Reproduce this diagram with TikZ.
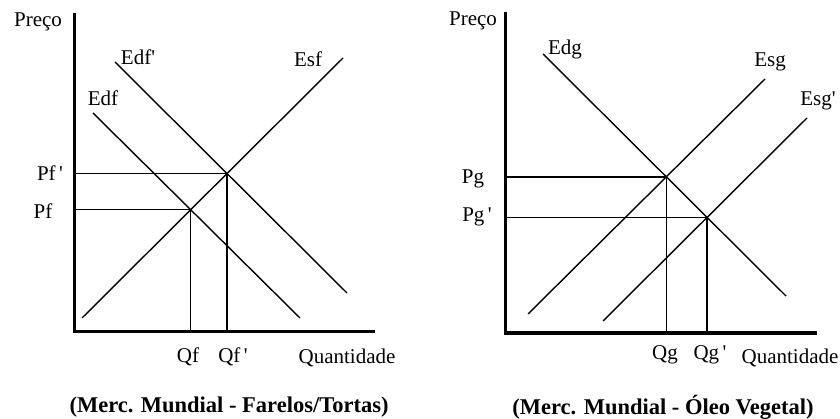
\documentclass[tikz,border=0pt]{standalone}
\usepackage{fontspec}
\setmainfont{Liberation Serif}
\usetikzlibrary{positioning,intersections}

\begin{document}
\begin{tikzpicture}[x=1pt, y=-1pt, font=\fontsize{21}{23}\selectfont]
  \tikzstyle{axis}=[line width=3pt]
  \tikzstyle{curve}=[line width=1.4pt]
  \tikzstyle{guide}=[line width=1.4pt]
  \tikzstyle{lbl}=[inner sep=0pt]
  \tikzstyle{title}=[inner sep=0pt, font=\fontsize{22.5}{25}\selectfont\bfseries]
  \useasboundingbox[fill=white] (0,0) rectangle (840,419);

  % left panel: farelos / tortas
  \coordinate (ytopL) at (74,13);
  \coordinate (oL) at (74,332);
  \coordinate (xendL) at (375,332);
  \draw[axis] (ytopL) -- (oL) -- (xendL);
  \coordinate (edfA) at (93,113);   \coordinate (edfB) at (300,318);
  \coordinate (edfpA) at (115,62);  \coordinate (edfpB) at (347,293);
  \coordinate (esfA) at (82,318);   \coordinate (esfB) at (343,58);
  \draw[curve, name path=edf] (edfA) -- (edfB);
  \draw[curve, name path=edfp] (edfpA) -- (edfpB);
  \draw[curve, name path=esf] (esfA) -- (esfB);
  \path[name intersections={of=edf and esf, by=eqf}];
  \path[name intersections={of=edfp and esf, by=eqfp}];
  \draw[guide] (oL |- eqf) -- (eqf) -- (eqf |- oL);
  \draw[guide] (oL |- eqfp) -- (eqfp) -- (eqfp |- oL);
  \node[lbl] (precoL) at (38,22) {Preço};
  \node[lbl] (edfpLbl) at (138,57) {Edf\textquotesingle};
  \node[lbl] (edfLbl) at (103,98) {Edf};
  \node[lbl] (esfLbl) at (308,59) {Esf};
  \node[lbl] (pfp) at (50,173) {Pf\,\textquotesingle};
  \node[lbl] (pf) at (43,211) {Pf};
  \node[lbl] (qf) at (188,357) {Qf};
  \node[lbl] (qfp) at (233,357) {Qf\,\textquotesingle};
  \node[lbl] (quantL) at (347,358) {Quantidade};
  \node[title] (titleL) at (229,407) {(Merc. Mundial - Farelos/Tortas)};

  % right panel: oleo vegetal
  \coordinate (ytopR) at (505,12);
  \coordinate (oR) at (505,333);
  \coordinate (xendR) at (817,333);
  \draw[axis] (ytopR) -- (oR) -- (xendR);
  \coordinate (edgA) at (543,54);   \coordinate (edgB) at (786,296);
  \coordinate (esgA) at (528,314);  \coordinate (esgB) at (765,79);
  \coordinate (esgpA) at (603,321); \coordinate (esgpB) at (807,118);
  \draw[curve, name path=edg] (edgA) -- (edgB);
  \draw[curve, name path=esg] (esgA) -- (esgB);
  \draw[curve, name path=esgp] (esgpA) -- (esgpB);
  \path[name intersections={of=edg and esg, by=eqg}];
  \path[name intersections={of=edg and esgp, by=eqgp}];
  \draw[guide] (oR |- eqg) -- (eqg) -- (eqg |- oR);
  \draw[guide] (oR |- eqgp) -- (eqgp) -- (eqgp |- oR);
  \node[lbl] (precoR) at (473,21) {Preço};
  \node[lbl] (edgLbl) at (565,49) {Edg};
  \node[lbl] (esgLbl) at (770,62) {Esg};
  \node[lbl] (esgpLbl) at (818,101) {Esg\textquotesingle};
  \node[lbl] (pg) at (473,179) {Pg};
  \node[lbl] (pgp) at (477,217) {Pg\,\textquotesingle};
  \node[lbl] (qg) at (665,355) {Qg};
  \node[lbl] (qgp) at (710,355) {Qg\,\textquotesingle};
  \node[lbl] (quantR) at (790,358) {Quantidade};
  \node[title] (titleR) at (663,407) {(Merc. Mundial - Óleo Vegetal)};
\end{tikzpicture}
\end{document}
